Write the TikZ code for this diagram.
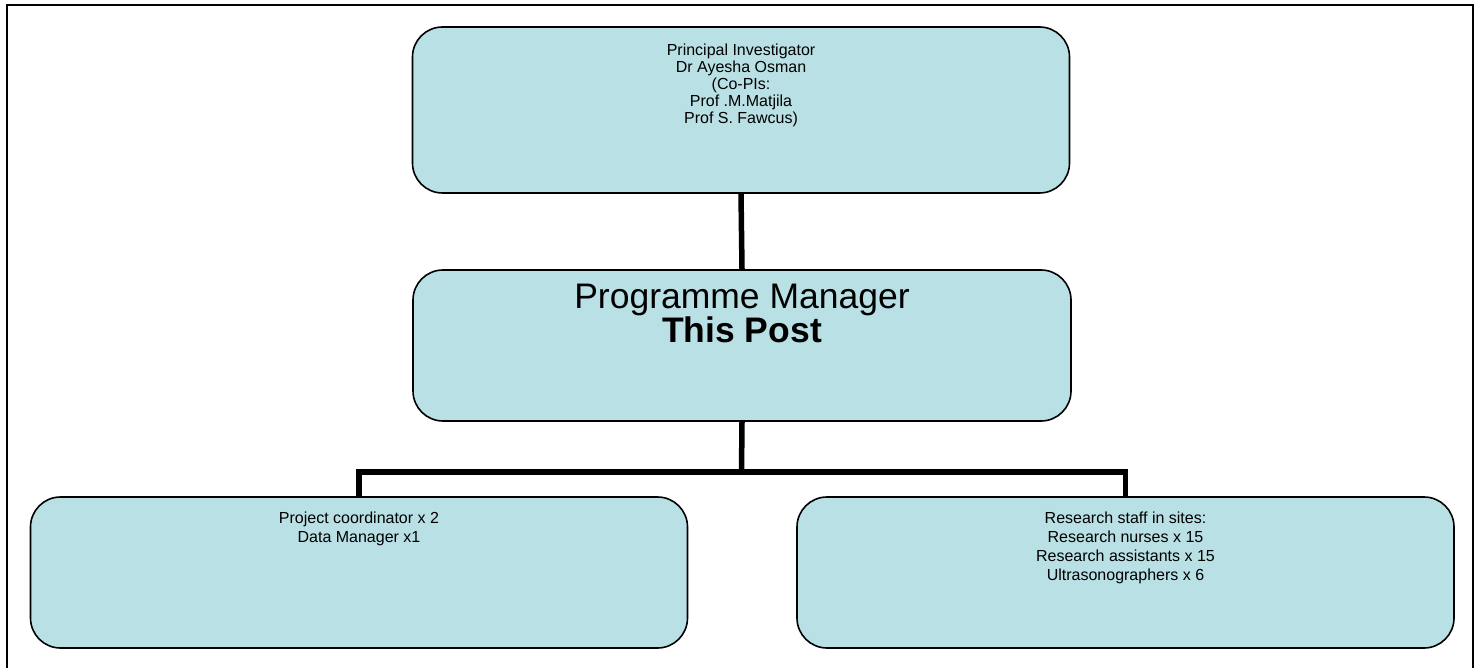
\documentclass[tikz,border=0pt]{standalone}
\usepackage{fontspec}
\setmainfont{Liberation Sans}
\definecolor{boxblue}{RGB}{185,224,228}
\tikzset{
  orgbox/.style={draw, line width=1.6pt, fill=boxblue, rounded corners=30pt,
    minimum width=657pt, minimum height=151pt, inner sep=0pt},
  boxtext/.style={anchor=north, align=center, inner sep=0pt,
    font=\fontsize{16}{19}\selectfont},
  bigtext/.style={anchor=north, align=center, inner sep=0pt,
    font=\fontsize{35.5}{34}\selectfont},
  link/.style={line width=5.5pt}
}
\begin{document}
\begin{tikzpicture}[x=1pt, y=-1pt]
      \path[use as bounding box, clip] (0,0) rectangle (1483,668);
      \draw[line width=2pt] (6.5,5) rectangle (1473,700);
      \draw
        (741,110) node[orgbox, minimum height=166pt] (pi){}
        (742,345.5) node[orgbox, minimum width=658pt] (pm){}
        (359,572.5) node[orgbox] (coord){}
        (1125.5,572.5) node[orgbox] (staff){};
      \node[boxtext, font=\fontsize{16}{17}\selectfont] (pitext) at (741,44)
        {Principal Investigator\\Dr Ayesha Osman\\(Co-PIs:\\Prof .M.Matjila\\Prof S. Fawcus)};
      \node[bigtext] (pmtext) at (742,284) {Programme Manager\\\textbf{This Post}};
      \node[boxtext] (coordtext) at (359,512) {Project coordinator x 2\\Data Manager x1};
      \node[boxtext] (stafftext) at (1125.5,512)
        {Research staff in sites:\\ Research nurses x 15\\Research assistants x 15\\Ultrasonographers x 6};
      \coordinate (bar) at (741.5,472);
      \begin{scope}[link]
        \draw (pi.south) to (pm.north);
        \draw (pm.south) to (bar);
        \draw (coord.north) |- (bar) -| (staff.north);
      \end{scope}
    \end{tikzpicture}
\end{document}
